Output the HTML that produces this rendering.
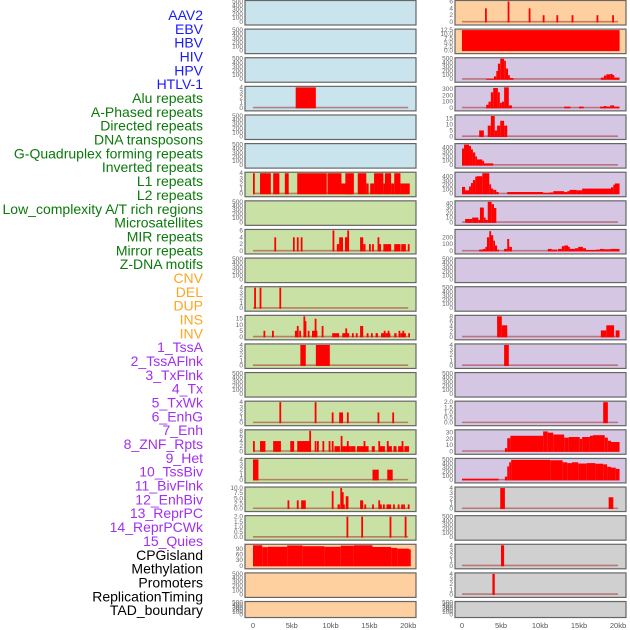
<!DOCTYPE html>
<html><head><meta charset="utf-8">
<style>
html,body{margin:0;padding:0;background:#fff;width:630px;height:630px;overflow:hidden}
svg{display:block;font-family:"Liberation Sans",sans-serif}
</style></head>
<body>
<svg id="chart" width="630" height="630" viewBox="0 0 630 630" xmlns="http://www.w3.org/2000/svg"></svg>
<script>
// ---- data ----
const labelNames = ["AAV2","EBV","HBV","HIV","HPV","HTLV-1","Alu repeats","A-Phased repeats","Directed repeats","DNA transposons","G-Quadruplex forming repeats","Inverted repeats","L1 repeats","L2 repeats","Low_complexity A/T rich regions","Microsatellites","MIR repeats","Mirror repeats","Z-DNA motifs","CNV","DEL","DUP","INS","INV","1_TssA","2_TssAFlnk","3_TxFlnk","4_Tx","5_TxWk","6_EnhG","7_Enh","8_ZNF_Rpts","9_Het","10_TssBiv","11_BivFlnk","12_EnhBiv","13_ReprPC","14_ReprPCWk","15_Quies","CPGisland","Methylation","Promoters","ReplicationTiming","TAD_boundary"];
const labelGroups = ["v","v","v","v","v","v","r","r","r","r","r","r","r","r","r","r","r","r","r","s","s","s","s","s","c","c","c","c","c","c","c","c","c","c","c","c","c","c","c","k","k","k","k","k"];
const xTickValues = [0,5,10,15,20];
const xTickLabels = ["0","5kb","10kb","15kb","20kb"];
const emptyTicks = [0,100,200,300,400,500];

const leftBg = ["b","b","b","b","b","b","g","g","g","g","g","g","g","g","g","g","g","g","g","o","o","o"];
const leftMax = [500,500,500,4,500,500,4,500,6,500,4,17,4,500,4,8,4,10,2,110,500,500];
const leftTicks = [null,null,null,[0,1,2,3,4],null,null,[0,1,2,3,4],null,[0,2,4,6],null,[0,1,2,3,4],[0,5,10,15],[0,1,2,3,4],null,[0,1,2,3,4],[0,2,4,6,8],[0,1,2,3,4],[0,2.5,5,7.5,10],[0,0.5,1,1.5,2],[0,30,60,90],null,null];
const leftTickFmt = [0,0,0,0,0,0,0,0,0,0,0,0,0,0,0,0,0,1,1,0,0,0];
const L3 = [[5.5,8.1,4]];
const L6 = [[0,0.15,4],[0.9,2.3,4],[2.6,3.4,4],[4.1,4.6,4],[5.7,9.5,4],[9.6,11.4,4],[11.4,12.8,2],[11.9,13.0,4],[13.5,14.6,4],[14.6,14.9,2],[15.1,15.6,2],[15.6,16.8,4],[16.8,17.0,2],[17.0,17.8,4],[17.8,18.2,2],[18.2,19.0,4],[19.0,20.2,2]];
const L8 = [[2.75,2.9,4],[5.15,5.3,4],[5.65,5.8,4],[6.15,6.3,4],[10.25,10.4,6],[10.8,11.1,2],[11.1,11.6,4],[11.85,12.0,4],[12.0,12.35,4],[12.15,12.3,6],[13.8,14.2,4],[14.2,14.5,2],[14.95,15.1,2],[15.35,15.5,2],[16.05,16.2,4],[16.2,16.5,2],[16.8,17.8,2],[18.2,19.0,2],[19.1,19.7,2],[19.95,20.1,2]];
const L10 = [[0.15,0.35,4],[0.85,1.05,4],[3.4,3.6,4]];
const L11 = [[1.35,1.5,5],[2.45,2.6,5],[5.4,5.7,5],[5.65,5.8,9],[5.95,6.1,5],[6.5,6.65,17],[6.65,6.8,13],[7.05,7.2,5],[7.6,8.3,5],[7.95,8.1,15],[8.85,9.0,9],[10.2,11.1,3],[11.5,12.4,3],[11.9,12.1,7],[12.75,12.9,3],[13.25,13.4,3],[13.8,14.2,9],[14.65,14.8,3],[15.2,15.4,3],[15.8,16.1,3],[16.5,17.1,3],[16.85,17.0,5],[17.1,17.7,3],[17.35,17.5,5],[18.2,18.5,3],[18.75,18.9,5],[19.0,19.7,3],[19.25,19.4,5],[20.0,20.15,3]];
const L12 = [[6.1,6.8,4],[8.1,9.9,4]];
const L14 = [[3.4,3.6,4],[7.95,8.1,4],[10.15,10.3,2],[11.1,11.6,2],[12.1,12.3,2],[16.05,16.2,2],[17.95,18.1,2]];
const L15 = [[0,0.2,4],[0.9,1.6,4],[2.6,3.6,4],[4.8,5.3,4],[5.7,7.4,4],[7.25,7.4,8],[7.95,8.1,4],[8.25,8.4,4],[8.95,9.1,4],[9.75,9.9,4],[10.15,10.3,4],[10.5,11.2,2],[11.3,11.5,6],[11.5,12.6,2],[12.1,12.3,4],[12.6,13.2,2],[13.4,14.9,2],[14.25,14.4,4],[15.3,15.7,2],[16.15,16.3,4],[16.3,17.0,2],[17.25,17.4,4],[17.4,17.9,2],[18.1,18.5,2],[18.7,19.4,2],[19.15,19.3,4],[19.5,20.1,2]];
const L16 = [[0,0.7,4],[15.4,16.2,2],[17.3,18.0,2]];
const L17 = [[4.45,4.6,4],[5.65,5.8,4],[6.2,6.8,4],[10.15,10.3,8.5],[10.9,11.2,2],[11.25,11.4,10],[11.45,11.6,8],[11.6,11.8,2],[11.95,12.3,6],[13.8,14.2,4],[14.35,14.5,2],[15.35,15.5,2],[16.15,16.3,4],[16.3,16.6,2],[16.75,16.9,2],[17.2,17.8,2],[18.05,18.2,2],[18.65,18.8,2],[19.1,19.25,2],[19.35,19.5,2],[19.95,20.1,2]];
const L18 = [[12.05,12.2,2],[13.95,14.1,2],[17.6,17.75,2],[19.55,19.7,2]];
const L19 = [[0,1.2,110],[1.2,1.9,100],[1.9,4.4,102],[4.4,6.4,109],[6.4,9.2,105],[9.2,11.3,102],[11.3,13.0,108],[13.0,15.4,110],[15.4,17.8,101],[17.8,18.6,96],[18.6,20.1,92],[20.1,20.25,88]];
const leftBars = [[],[],[],L3,[],[],L6,[],L8,[],L10,L11,L12,[],L14,L15,L16,L17,L18,L19,[],[]];

const rightBg = ["o","o","p","p","p","p","p","p","p","p","p","p","p","p","p","p","p","k","k","k","k","k"];
const rightMax = [6,12.5,500,330,17,470,480,43,300,500,500,8,4,500,2,33,500,4,500,4,4,500];
const rightTicks = [[0,2,4,6],[0,2.5,5,7.5,10,12.5],null,[0,100,200,300],[0,5,10,15],[0,100,200,300,400],[0,100,200,300,400],[0,10,20,30,40],[0,100,200],null,null,[0,2,4,6,8],[0,1,2,3,4],null,[0,0.5,1,1.5,2],[0,10,20,30],null,[0,1,2,3,4],null,[0,1,2,3,4],[0,1,2,3,4],null];
const rightTickFmt = [0,1,0,0,0,0,0,0,0,0,0,0,0,0,1,0,0,0,0,0,0,0];
const R0 = [[2.95,3.1,4],[5.85,6.0,6],[8.55,8.7,4],[10.35,10.5,2],[12.1,12.3,2],[14.05,14.2,2],[17.25,17.4,2],[19.25,19.4,2]];
const R1 = [[0,20.2,12.5]];
const R2 = [[3.1,4.1,10],[4.1,4.4,70],[4.4,4.6,200],[4.6,4.9,380],[4.9,5.4,500],[5.4,5.6,450],[5.6,5.9,260],[5.9,6.1,100],[6.1,6.6,30],[17.8,18.2,40],[18.2,18.5,90],[18.5,19.0,120],[19.0,19.3,130],[19.3,19.5,100],[19.5,20.2,40]];
const R3 = [[3.1,3.4,50],[3.4,3.7,100],[3.7,4.0,250],[4.0,4.6,320],[4.6,4.85,250],[4.85,5.1,80],[5.1,5.4,100],[5.4,6.0,330],[6.0,6.4,40],[13.1,13.9,20],[15.0,15.6,20],[17.7,18.2,20],[18.2,18.5,30],[18.5,19.0,20],[19.0,19.5,40],[19.5,20.2,20]];
const R4 = [[2.2,2.8,5],[3.3,3.7,9],[3.7,4.2,17],[4.2,4.5,5],[4.5,4.9,9],[4.9,5.4,13],[5.4,5.8,9]];
const R5 = [[0,0.26,380],[0.26,0.9,470],[0.9,1.15,440],[1.15,1.4,360],[1.4,1.7,290],[1.7,1.9,200],[1.9,2.6,130],[2.6,2.8,100],[2.8,4.0,40]];
const R6 = [[0,0.4,160],[0.4,0.9,80],[0.9,1.15,170],[1.15,1.4,250],[1.4,1.7,320],[1.7,1.9,400],[1.9,2.6,410],[2.6,3.5,480],[3.5,3.7,220],[3.7,4.0,120],[4.0,4.4,90],[4.4,4.7,40],[5.8,10.4,40],[10.4,11.2,20],[11.2,11.7,30],[11.7,13.1,60],[13.1,13.5,40],[13.5,13.8,60],[13.8,14.7,90],[14.7,15.4,80],[15.4,19.1,120],[19.1,19.4,150],[19.4,19.6,210],[19.6,20.2,240]];
const R7 = [[0.4,1.3,7],[1.3,2.1,10],[2.1,2.3,5],[2.3,2.8,31],[2.8,3.0,10],[3.0,3.3,5],[3.3,3.8,43],[3.8,4.1,38],[4.1,4.4,30]];
const R8 = [[2.2,2.7,20],[2.7,3.0,30],[3.0,3.2,60],[3.2,3.5,200],[3.5,3.7,290],[3.7,4.0,230],[4.0,4.2,150],[4.2,4.5,80],[4.5,4.7,20],[5.4,5.8,30],[5.8,6.05,175],[6.05,6.4,60],[11.0,11.5,30],[11.5,12.2,20],[12.3,12.8,30],[12.8,13.1,70],[13.1,13.6,80],[13.6,13.8,60],[13.8,14.5,30],[14.5,14.9,40],[14.9,15.5,60],[15.5,15.9,40],[15.9,17.2,15],[17.2,17.7,20],[17.7,18.2,30],[18.2,19.0,25],[19.0,20.2,30]];
const R11 = [[4.5,5.1,8],[5.1,5.8,4.5],[17.8,18.5,2.5],[18.5,19.5,4.5],[19.7,20.2,2.5]];
const R12 = [[5.4,6.0,4]];
const R14 = [[18.1,18.7,2]];
const R15 = [[5.5,5.8,5],[5.8,6.2,21],[6.2,10.4,25],[10.4,11.0,32],[11.0,11.7,30],[11.7,13.1,27],[13.1,13.7,22],[13.7,15.1,23],[15.1,15.4,20],[15.4,16.4,23],[16.4,16.8,25],[16.8,18.3,26],[18.3,18.7,22],[18.7,19.1,17],[19.1,20.2,15]];
const R16 = [[0,4.7,30],[5.5,5.8,80],[5.8,6.05,330],[6.05,6.3,430],[6.3,11.3,490],[11.3,12.9,480],[12.9,13.5,430],[13.5,14.1,410],[14.1,14.9,430],[14.9,16.0,400],[16.0,17.1,410],[17.1,18.1,395],[18.1,18.6,380],[18.6,19.1,320],[19.1,19.7,300],[19.7,20.2,270]];
const R17 = [[4.9,5.5,4],[18.8,19.4,2.2]];
const R19 = [[5.0,5.4,4]];
const R20 = [[3.9,4.2,4]];
const rightBars = [R0,R1,R2,R3,R4,R5,R6,R7,R8,[],[],R11,R12,[],R14,R15,R16,R17,[],R19,R20,[]];

// ---- layout ----
const NS = "http://www.w3.org/2000/svg";
const svg = document.getElementById("chart");
const bgColors = {b:"#c9e4ec",g:"#c9e1a5",o:"#ffd09f",p:"#d5c6e3",k:"#d0d0d0"};
const labelColors = {v:"#1a1aff",r:"#0a7a0a",s:"#ffa520",c:"#a030f0",k:"#000000"};
const ROW_STEP = 28.62, ROW_H = 24.5, LAST_H = 16;
const cols = [{x0:245,x1:416,z:253,k:7.76,name:"left"},{x0:455,x1:626,z:462,k:7.8,name:"right"}];

function mk(tag, attrs){const e=document.createElementNS(NS,tag);for(const a in attrs)e.setAttribute(a,attrs[a]);return e;}

labelNames.forEach((name,i)=>{
  const t = mk("text",{x:203,y:(20+i*13.84).toFixed(1),"text-anchor":"end","font-size":"14",fill:labelColors[labelGroups[i]]});
  
  
  t.textContent = name;
  svg.appendChild(t);
});

function drawPanel(col, i, bg, yMax, ticks, fmt, bars, hasData){
  const top = i*ROW_STEP, h = (i===21)?LAST_H:ROW_H;
  const g = mk("g",{});
  
  
  const bgR = mk("rect",{x:col.x0,y:top+0.5,width:col.x1-col.x0,height:h,fill:bgColors[bg],stroke:"#666",'stroke-width':1.2});
  
  
  g.appendChild(bgR);
  const yb = top+h-2.5, yt = top+1.5;
  const ys = v => yb - (v/yMax)*(yb-yt);
  const xs = kb => col.z + kb*col.k;
  if(hasData && bars !== R1){
    const base = mk("line",{x1:xs(0),x2:xs(20),y1:yb-0.3,y2:yb-0.3,stroke:"rgba(170,60,60,0.6)",'stroke-width':1.6});
    
    
    g.appendChild(base);
  }
  bars.forEach(b=>{
    const x1 = xs(b[0]), x2 = xs(b[1]);
    const r = mk("rect",{x:x1.toFixed(2),y:ys(b[2]).toFixed(2),width:Math.max(1.8,x2-x1).toFixed(2),height:(yb-ys(b[2])+0.5).toFixed(2),fill:"#ff0000"});
    
    
    g.appendChild(r);
  });
  const tv = ticks || emptyTicks;
  const tMax = ticks ? yMax : 500;
  tv.forEach(v=>{
    const yy = yb - (v/tMax)*(yb-yt);
    const t = mk("text",{x:col.x0-2,y:(yy+2).toFixed(1),"text-anchor":"end","font-size":"6.5",fill:"#666"});
    
    
    t.textContent = fmt ? v.toFixed(1) : String(v);
    g.appendChild(t);
  });
  svg.appendChild(g);
}

for(let i=0;i<22;i++){
  drawPanel(cols[0], i, leftBg[i], leftMax[i], leftTicks[i], leftTickFmt[i], leftBars[i], leftBars[i].length>0);
  drawPanel(cols[1], i, rightBg[i], rightMax[i], rightTicks[i], rightTickFmt[i], rightBars[i], rightBars[i].length>0);
}

cols.forEach(col=>{
  xTickValues.forEach((v,j)=>{
    const t = mk("text",{x:(col.z+v*col.k).toFixed(1),y:628,"text-anchor":"middle","font-size":"7.5",fill:"#555"});
    
    
    t.textContent = xTickLabels[j];
    svg.appendChild(t);
  });
});
</script>
</body></html>
